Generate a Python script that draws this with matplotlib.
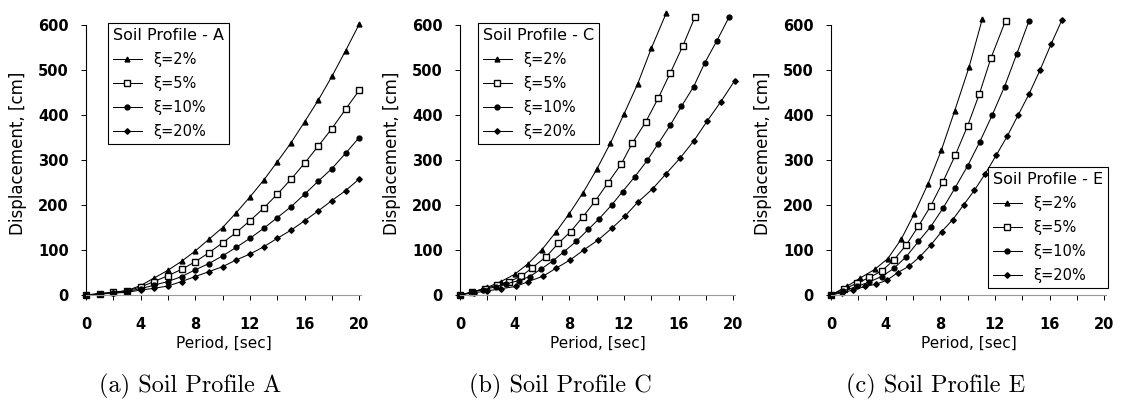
import matplotlib
matplotlib.use("Agg")
import matplotlib.pyplot as plt

# Soil Profile A (points every 1 s)
t_a = [0, 1, 2, 3, 4, 5, 6, 7, 8, 9, 10, 11, 12, 13, 14, 15, 16, 17, 18, 19, 20]
a_2 = [0, 3, 6, 10, 21, 38, 55, 75, 98, 124, 150, 183, 218, 255, 296, 338, 385, 433, 486, 543, 602]
a_5 = [0, 3, 6, 9, 18, 30, 43, 57, 74, 94, 116, 139, 165, 193, 224, 257, 293, 331, 370, 413, 455]
a_10 = [0, 2, 5, 8, 14, 22, 30, 41, 56, 70, 87, 106, 126, 148, 172, 196, 224, 253, 281, 315, 350]
a_20 = [0, 2, 4, 6, 11, 15, 20, 30, 41, 52, 63, 78, 91, 107, 126, 144, 165, 187, 210, 232, 258]

# Soil Profile C
t_c2 = [0, 1, 2, 3, 4, 5, 6, 7, 8, 9, 10, 11, 12, 13, 14, 15.1]
c_2 = [0, 7, 17, 30, 46, 70, 101, 139, 181, 227, 279, 337, 402, 469, 548, 627]
t_c5 = [0, 0.9, 1.8, 2.7, 3.6, 4.5, 5.3, 6.3, 7.2, 8.1, 9.0, 9.9, 10.8, 11.8, 12.6, 13.6, 14.5, 15.4, 16.3, 17.2]
c_5 = [0, 7, 14, 22, 30, 42, 61, 85, 115, 141, 174, 209, 248, 291, 337, 385, 437, 494, 553, 618]
t_c10 = [0, 0.9, 1.7, 2.6, 3.4, 4.3, 5.1, 5.95, 6.8, 7.6, 8.5, 9.4, 10.2, 11.1, 11.9, 12.8, 13.7, 14.5, 15.4, 16.2, 17.1, 17.9, 18.8, 19.7]
c_10 = [0, 6, 12, 18, 25, 32, 41, 58, 76, 96, 119, 146, 170, 200, 230, 263, 299, 336, 378, 419, 463, 515, 565, 618]
t_c20 = [0, 1, 2, 3, 4.1, 5, 6.1, 7, 8.07, 9.05, 10.1, 11.1, 12.1, 13, 14.1, 15.1, 16.1, 17.1, 18.1, 19.1, 20.1]
c_20 = [0, 5, 9, 14, 19, 30, 42, 59, 78, 100, 122, 148, 176, 206, 236, 270, 304, 342, 387, 430, 476]

# Soil Profile E
t_e2 = [0, 1.15, 2.1, 3.2, 4.16, 5.14, 6.1, 7.1, 8.08, 9.06, 10.1, 11.07]
e_2 = [0, 19, 37, 57, 81, 124, 181, 247, 322, 410, 506, 613]
t_e5 = [0, 0.95, 1.9, 2.8, 3.7, 4.6, 5.5, 6.4, 7.3, 8.2, 9.1, 10.0, 10.86, 11.7, 12.78]
e_5 = [0, 13, 26, 39, 53, 78, 111, 153, 198, 252, 311, 376, 447, 526, 610]
t_e10 = [0, 0.9, 1.9, 2.8, 3.7, 4.6, 5.5, 6.4, 7.3, 8.2, 9.06, 10.0, 10.9, 11.8, 12.7, 13.6, 14.5]
e_10 = [0, 9, 19, 29, 41, 59, 85, 119, 152, 193, 237, 287, 341, 400, 463, 536, 610]
t_e20 = [0, 0.8, 1.6, 2.5, 3.3, 4.1, 4.9, 5.7, 6.5, 7.3, 8.1, 8.9, 9.7, 10.5, 11.3, 12.1, 12.9, 13.7, 14.5, 15.3, 16.1, 16.9]
e_20 = [0, 5, 11, 19, 24, 33, 50, 64, 85, 111, 141, 167, 200, 233, 270, 311, 353, 400, 447, 500, 557, 611]

labels = ["ξ=2%", "ξ=5%", "ξ=10%", "ξ=20%"]
styles = [
    dict(marker="^", ms=3.5, mfc="black"),
    dict(marker="s", ms=4.2, mfc="white", mew=1.0),
    dict(marker="o", ms=3.5, mfc="black"),
    dict(marker="D", ms=2.8, mfc="black"),
]

# name, series, axes left px, legend loc, anchor, caption, caption centre px
panels = [
    ("A", [(t_a, a_2), (t_a, a_5), (t_a, a_10), (t_a, a_20)], 86, "upper left", (0.079, 0.96),
     "(a) Soil Profile A", 190),
    ("C", [(t_c2, c_2), (t_c5, c_5), (t_c10, c_10), (t_c20, c_20)], 460, "upper left", (0.064, 0.96),
     "(b) Soil Profile C", 560),
    ("E", [(t_e2, e_2), (t_e5, e_5), (t_e10, e_10), (t_e20, e_20)], 831, "lower right", (1.004, 0.025),
     "(c) Soil Profile E", 936),
]

W, H = 1122, 400
fig = plt.figure(figsize=(W / 100, H / 100), dpi=100)
font = "DejaVu Sans"

for name, series, left_px, loc, anchor, caption, cap_x in panels:
    ax = fig.add_axes([left_px / W, 1 - 295 / H, 276 / W, 283.5 / H])
    for (x, y), lab, st in zip(series, labels, styles):
        ax.plot(x, y, color="black", lw=0.75, mec="black", label=lab, clip_on=False, **st)
    ax.set_xlim(0, 20.2)
    ax.set_ylim(0, 630)
    ax.set_xticks(range(0, 21, 4))
    ax.set_xticks(range(0, 21, 2), minor=True)
    ax.set_yticks(range(0, 601, 100))
    for s in ["top", "right"]:
        ax.spines[s].set_visible(False)
    ax.spines["left"].set_bounds(0, 600)
    ax.spines["left"].set_linewidth(0.8)
    ax.spines["bottom"].set_bounds(0, 20.1)
    ax.spines["bottom"].set_color("0.6")
    ax.spines["bottom"].set_linewidth(0.8)
    ax.tick_params(axis="both", which="both", direction="out", length=3.5, width=0.7, colors="black")
    ax.tick_params(axis="x", which="both", pad=12)
    ax.tick_params(axis="y", pad=9)
    ax.tick_params(labelsize=10.5)
    for lbl in ax.get_xticklabels() + ax.get_yticklabels():
        lbl.set_fontfamily(font)
        lbl.set_fontweight("bold")
    ax.set_xlabel("Period, [sec]", fontsize=11, fontfamily=font, labelpad=3)
    ax.set_ylabel("Displacement, [cm]", fontsize=12, fontfamily=font, labelpad=8)
    leg = ax.legend(title="Soil Profile - " + name, loc=loc, bbox_to_anchor=anchor, borderaxespad=0,
                    frameon=True, fancybox=False, edgecolor="black", framealpha=1,
                    prop={"family": font, "size": 10.5}, title_fontproperties={"family": font, "size": 11.5},
                    handlelength=2.0, labelspacing=0.62, borderpad=0.35, handletextpad=0.75)
    leg.get_frame().set_linewidth(0.8)
    leg._legend_box.align = "left"
    fig.text(cap_x / W, 1 - 386 / H, caption, ha="center", va="center", fontsize=17.5, fontfamily="cmr10")

fig.savefig("out.png", dpi=100)
